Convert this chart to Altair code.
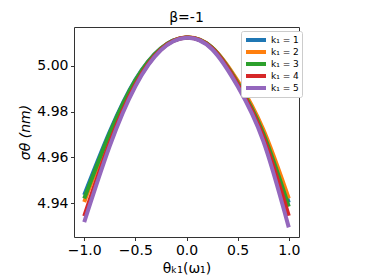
import altair as alt
import pandas as pd

theta = [-1.0, -0.75, -0.5, -0.25, 0.0, 0.25, 0.5, 0.75, 1.0]
labels = ["k₁ = 1", "k₁ = 2", "k₁ = 3", "k₁ = 4", "k₁ = 5"]
sigma_k1 = [4.9435, 4.9712, 4.9938, 5.0076, 5.0123, 5.0078, 4.9928, 4.9712, 4.9402]
sigma_k2 = [4.9405, 4.9697, 4.9932, 5.0075, 5.0124, 5.0080, 4.9934, 4.9722, 4.9420]
sigma_k3 = [4.9420, 4.9705, 4.9935, 5.0075, 5.0123, 5.0078, 4.9925, 4.9705, 4.9385]
sigma_k4 = [4.9343, 4.9665, 4.9918, 5.0071, 5.0123, 5.0076, 4.9920, 4.9690, 4.9345]
sigma_k5 = [4.9317, 4.9650, 4.9910, 5.0068, 5.0122, 5.0072, 4.9910, 4.9672, 4.9294]
colors = ["#1f77b4", "#ff7f0e", "#2ca02c", "#d62728", "#9467bd"]
x_ticks = [-1.0, -0.5, 0.0, 0.5, 1.0]
y_ticks = [4.94, 4.96, 4.98, 5.00]

rows = []
for i, (lab, ser) in enumerate(zip(labels, [sigma_k1, sigma_k2, sigma_k3, sigma_k4, sigma_k5])):
    for t, s in zip(theta, ser):
        rows.append({"theta": t, "sigma": s, "k": lab, "order": i})
df = pd.DataFrame(rows)

FONT = "DejaVu Sans"

chart = alt.Chart(df).mark_line(strokeWidth=4, interpolate="natural", strokeCap="butt").encode(
    x=alt.X("theta:Q", scale=alt.Scale(domain=[-1.1, 1.1], nice=False, zero=False),
            axis=alt.Axis(values=x_ticks, format=".1f", title="θₖ₁(ω₁)",
                          titleX=112.5, titleY=31, titleBaseline="middle", titleAlign="center")),
    y=alt.Y("sigma:Q", scale=alt.Scale(domain=[4.9252, 5.0169], nice=False, zero=False),
            axis=alt.Axis(values=y_ticks, format=".2f", title="σθ (nm)", titleFontStyle="italic",
                          titleX=-49, titleY=105, titleBaseline="middle", titleAlign="center", titleAngle=270)),
    color=alt.Color("k:N", scale=alt.Scale(domain=labels, range=colors),
                    legend=alt.Legend(title=None, orient="none", legendX=167, legendY=4,
                                      symbolType="stroke", symbolSize=400, symbolStrokeWidth=4,
                                      labelFontSize=9, labelFont=FONT, rowPadding=0,
                                      clipHeight=12,
                                      padding=3, strokeColor="#cccccc", fillColor="white",
                                      cornerRadius=2, labelOffset=3)),
    order="order:Q",
    detail="k:N",
).properties(
    width=225, height=210,
    title=alt.TitleParams("β=-1", fontSize=14, font=FONT, fontWeight="normal", offset=2),
    autosize=alt.AutoSizeParams(type="none"),
    padding={"left": 66, "top": 19, "right": 60, "bottom": 42},
).configure_view(stroke="#333333", strokeWidth=1).configure_axis(
    grid=False, labelFont=FONT, labelFontSize=14, labelColor="black",
    titleFont=FONT, titleFontSize=14, titleColor="black", titleFontWeight="normal",
    domain=False, tickColor="#333333", tickSize=3.5, labelPadding=2.5,
).configure_axisX(labelPadding=3)

chart.save("out.html", embed_options={"renderer": "svg", "actions": False})
